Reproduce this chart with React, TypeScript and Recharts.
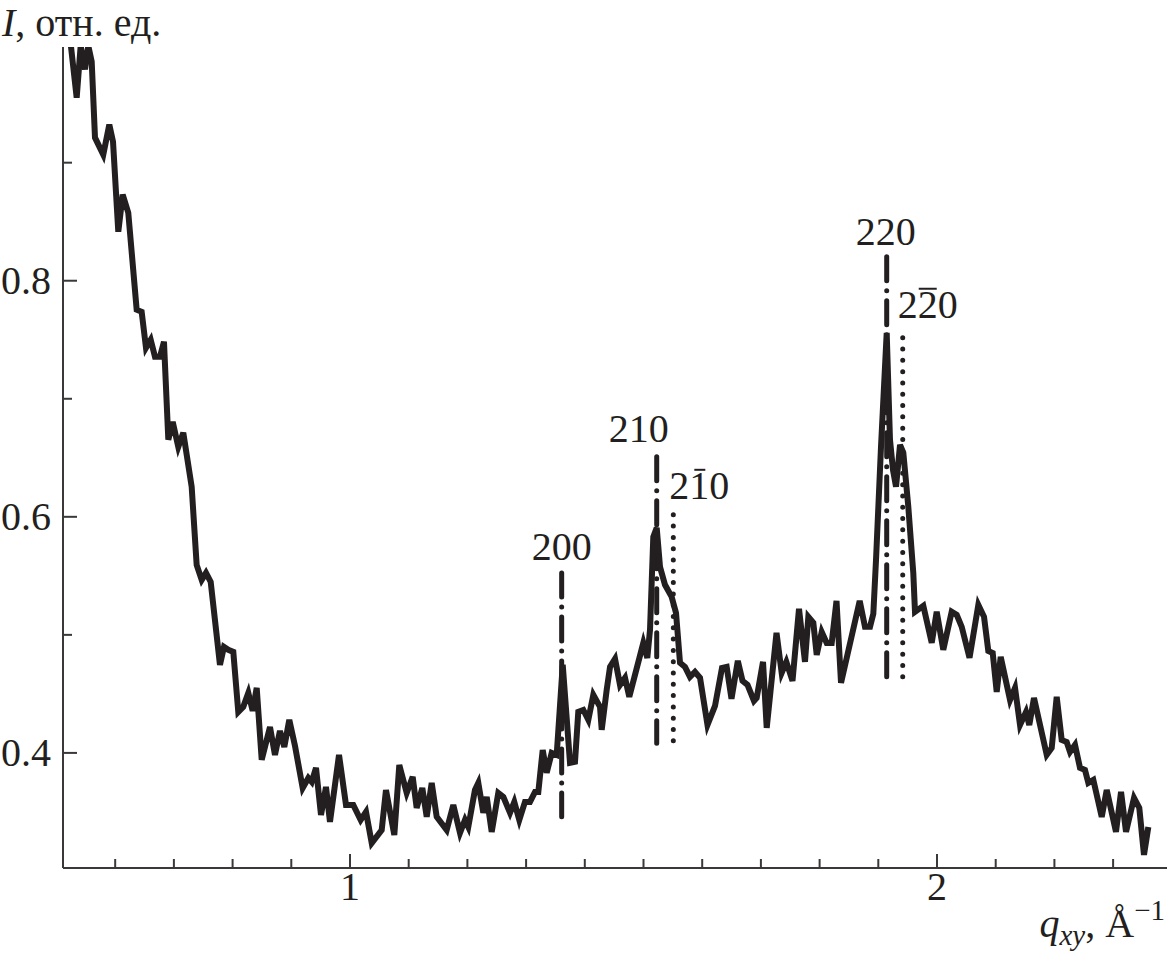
import React from 'react';
import { LineChart, Line, XAxis, YAxis, ReferenceLine } from 'recharts';

const qxy = [
  0.523, 0.5344, 0.5412, 0.5486, 0.5542, 0.56, 0.5656, 0.5797, 0.59, 0.5963,
  0.6053, 0.6128, 0.6223, 0.6366, 0.6451, 0.6525, 0.6605, 0.6678, 0.6763, 0.6831,
  0.6905, 0.698, 0.7075, 0.716, 0.7303, 0.7388, 0.7474, 0.7547, 0.7627, 0.7785,
  0.7853, 0.7927, 0.8012, 0.8097, 0.8182, 0.8268, 0.8342, 0.8411, 0.8496, 0.8637,
  0.8722, 0.8807, 0.8881, 0.8966, 0.9063, 0.9194, 0.929, 0.9348, 0.9421, 0.9506,
  0.9591, 0.9659, 0.9813, 0.9932, 1.0056, 1.0182, 1.0273, 1.037, 1.054, 1.0613,
  1.0755, 1.084, 1.0966, 1.1068, 1.1136, 1.1232, 1.1307, 1.1392, 1.1477, 1.1647,
  1.176, 1.1874, 1.1959, 1.2015, 1.2129, 1.2186, 1.2271, 1.2329, 1.2414, 1.2526,
  1.2612, 1.2726, 1.2799, 1.2884, 1.2981, 1.3066, 1.3152, 1.3208, 1.3283, 1.3351,
  1.3436, 1.3521, 1.3624, 1.3748, 1.3833, 1.3889, 1.3975, 1.406, 1.4145, 1.4259,
  1.4288, 1.4373, 1.443, 1.4515, 1.46, 1.4685, 1.4758, 1.4997, 1.5065, 1.5111,
  1.5167, 1.5225, 1.5281, 1.5366, 1.548, 1.5554, 1.5622, 1.5707, 1.5792, 1.5877,
  1.5963, 1.609, 1.6218, 1.6337, 1.6417, 1.6499, 1.6607, 1.6687, 1.6772, 1.6882,
  1.6928, 1.7036, 1.7099, 1.7266, 1.7354, 1.7433, 1.7538, 1.7649, 1.7751, 1.7808,
  1.7893, 1.7951, 1.8036, 1.8121, 1.8206, 1.8288, 1.8365, 1.8683, 1.8773, 1.8859,
  1.8915, 1.8961, 1.9046, 1.9143, 1.9199, 1.925, 1.9302, 1.937, 1.9426, 1.9511,
  1.9596, 1.9625, 1.9767, 1.991, 1.9995, 2.0107, 2.025, 2.0336, 2.0421, 2.0554,
  2.0704, 2.0801, 2.0874, 2.0949, 2.1017, 2.1085, 2.1244, 2.1329, 2.1414, 2.1516,
  2.1572, 2.1652, 2.1869, 2.1954, 2.2039, 2.2124, 2.2209, 2.2266, 2.2351, 2.2436,
  2.2521, 2.2578, 2.2663, 2.2806, 2.2891, 2.3049, 2.3135, 2.322, 2.3356, 2.3446,
  2.3526, 2.36,
];

const intensity = [
  1.006, 0.955, 0.999, 0.979, 0.999, 0.9856, 0.9212, 0.9068, 0.9322, 0.9178,
  0.8415, 0.8729, 0.8576, 0.7754, 0.7737, 0.7432, 0.75, 0.7356, 0.7356, 0.7483,
  0.6653, 0.6805, 0.6593, 0.6712, 0.6254, 0.5593, 0.5466, 0.5525, 0.5449, 0.4746,
  0.4898, 0.4873, 0.4856, 0.4347, 0.439, 0.4508, 0.4356, 0.4551, 0.3941, 0.422,
  0.3983, 0.4186, 0.4051, 0.428, 0.4059, 0.3703, 0.3788, 0.3754, 0.3873, 0.3475,
  0.3712, 0.3415, 0.3983, 0.3559, 0.3559, 0.3432, 0.35, 0.3237, 0.3347, 0.3686,
  0.3305, 0.3898, 0.3661, 0.3797, 0.3534, 0.3703, 0.3458, 0.3746, 0.3458, 0.3347,
  0.3559, 0.3322, 0.3432, 0.3373, 0.3686, 0.3746, 0.3492, 0.3627, 0.3331, 0.3661,
  0.3627, 0.3492, 0.3585, 0.3432, 0.3585, 0.3585, 0.3669, 0.3669, 0.4025, 0.3831,
  0.4, 0.3983, 0.4746, 0.3915, 0.3924, 0.4347, 0.4364, 0.428, 0.4492, 0.439,
  0.4195, 0.4534, 0.4729, 0.4797, 0.4576, 0.4636, 0.4475, 0.4932, 0.4805, 0.5042,
  0.5831, 0.5907, 0.5576, 0.5424, 0.5322, 0.5186, 0.4763, 0.4729, 0.4644, 0.4686,
  0.4636, 0.4237, 0.4398, 0.472, 0.4729, 0.4458, 0.478, 0.461, 0.4576, 0.4441,
  0.4466, 0.4771, 0.4212, 0.5017, 0.4678, 0.4771, 0.461, 0.522, 0.4771, 0.5153,
  0.5102, 0.4831, 0.5025, 0.4932, 0.4932, 0.5288, 0.4593, 0.5288, 0.5068, 0.5068,
  0.5178, 0.5636, 0.6593, 0.7559, 0.6653, 0.6398, 0.6254, 0.661, 0.6542, 0.6085,
  0.5525, 0.5195, 0.5246, 0.4932, 0.5195, 0.4873, 0.5195, 0.5169, 0.5068, 0.4805,
  0.5254, 0.5153, 0.4864, 0.4847, 0.4517, 0.4814, 0.4449, 0.4551, 0.4237, 0.4347,
  0.4237, 0.4466, 0.3983, 0.4042, 0.4475, 0.411, 0.4093, 0.4008, 0.4068, 0.3873,
  0.3856, 0.3746, 0.3771, 0.3458, 0.3686, 0.3331, 0.3669, 0.3331, 0.3619, 0.3534,
  0.3136, 0.3373,
];

const xTicks = [0.6, 0.7, 0.8, 0.9, 1, 1.1, 1.2, 1.3, 1.4, 1.5, 1.6, 1.7, 1.8, 1.9, 2, 2.1, 2.2, 2.3];
const xTickLabels = [1, 2];
const yTicks = [0.4, 0.5, 0.6, 0.7, 0.8, 0.9];
const yTickLabels = [0.4, 0.6, 0.8];

// peak markers (Miller indices); barred = index of the digit carrying a bar (-1 = none)
const peakLabels = ['200', '210', '210', '220', '220'];
const peakBarred = [-1, -1, 1, -1, 1];
const peakQ = [1.3606, 1.5225, 1.5508, 1.9143, 1.9416];
const peakTop = [0.5525, 0.6508, 0.6017, 0.8203, 0.7517];
const peakBottom = [0.346, 0.4082, 0.4085, 0.4633, 0.4619];
const peakDotted = [false, false, true, false, true];
const peakLabelDx = [0, -18, 26, -1, 25];
const peakLabelGap = [13, 15, 16, 12, 20];

const INK = '#231f20';
const AXIS = '#3a3838';
const FONT = '"Liberation Serif", "Times New Roman", serif';
const FS = 40;
const DIGIT_W = FS * 0.5;

const data = qxy.map((q, i) => ({ q, I: intensity[i] }));

const XTick = (props: any) => {
  const { x, y, payload } = props;
  const major = xTickLabels.includes(payload.value);
  return (
    <g>
      <line x1={x} x2={x} y1={y} y2={y - (major ? 14 : 9)} stroke={AXIS} strokeWidth={2} />
      {major && (
        <text x={x} y={y + 32} textAnchor="middle" fontFamily={FONT} fontSize={FS} fill={INK}>
          {payload.value}
        </text>
      )}
    </g>
  );
};

const YTick = (props: any) => {
  const { x, y, payload } = props;
  const major = yTickLabels.includes(payload.value);
  return (
    <g>
      <line x1={x} x2={x + (major ? 14 : 9)} y1={y} y2={y} stroke={AXIS} strokeWidth={2} />
      {major && (
        <text x={x - 12} y={y + 13} textAnchor="end" fontFamily={FONT} fontSize={FS} fill={INK}>
          {String(payload.value)}
        </text>
      )}
    </g>
  );
};

const makePeakLabel = (i: number) => (props: any) => {
  const vb = props.viewBox || {};
  const cx = vb.x + (vb.width || 0) / 2 + peakLabelDx[i];
  const by = vb.y - peakLabelGap[i];
  const txt = peakLabels[i];
  const b = peakBarred[i];
  let bar = null;
  if (b >= 0) {
    const charCenter = cx - (txt.length * DIGIT_W) / 2 + (b + 0.5) * DIGIT_W;
    const half = txt[b] === '1' ? 6 : 9;
    bar = (
      <line
        x1={charCenter - half + (txt[b] === '1' ? 1 : 0)}
        x2={charCenter + half}
        y1={by - 29}
        y2={by - 29}
        stroke={INK}
        strokeWidth={2}
      />
    );
  }
  return (
    <g>
      <text x={cx} y={by} textAnchor="middle" fontFamily={FONT} fontSize={FS} fill={INK}>
        {txt}
      </text>
      {bar}
    </g>
  );
};

export default function App() {
  return (
    <div style={{ position: 'absolute', left: 0, top: 0, width: 1167, height: 956, background: '#fff' }}>
      <LineChart width={1167} height={956} data={data} margin={{ top: 47, right: 0, bottom: 0, left: 0 }}>
        <XAxis
          dataKey="q"
          type="number"
          domain={[0.5111, 2.3918]}
          allowDataOverflow
          ticks={xTicks}
          interval={0}
          tickSize={0}
          tickMargin={0}
          tickLine={false}
          tick={<XTick />}
          axisLine={{ stroke: AXIS, strokeWidth: 2 }}
          height={88}
        />
        <YAxis
          type="number"
          domain={[0.3025, 0.998]}
          allowDataOverflow
          ticks={yTicks}
          interval={0}
          tickSize={0}
          tickMargin={0}
          tickLine={false}
          tick={<YTick />}
          axisLine={{ stroke: AXIS, strokeWidth: 2 }}
          width={63}
        />
        {peakQ.map((q, i) => (
          <ReferenceLine
            key={i}
            segment={[
              { x: q, y: peakTop[i] },
              { x: q, y: peakBottom[i] },
            ]}
            stroke={INK}
            strokeWidth={5}
            strokeLinecap="round"
            strokeDasharray={peakDotted[i] ? '0 11.3' : '24 10 0 10'}
            label={makePeakLabel(i)}
          />
        ))}
        <Line
          type="linear"
          dataKey="I"
          stroke={INK}
          strokeWidth={6}
          dot={false}
          activeDot={false}
          isAnimationActive={false}
        />
      </LineChart>
      <svg
        width={1167}
        height={956}
        style={{ position: 'absolute', left: 0, top: 0, pointerEvents: 'none' }}
      >
        <text x={2} y={36} fontFamily={FONT} fontSize={FS} fill={INK}>
          <tspan fontStyle="italic">I</tspan>
          <tspan>, отн. ед.</tspan>
        </text>
        <text x={1165} y={937} textAnchor="end" fontFamily={FONT} fontSize={FS} fill={INK}>
          <tspan fontStyle="italic">q</tspan>
          <tspan fontStyle="italic" fontSize={29} dy={8}>xy</tspan>
          <tspan dy={-8}>, Å</tspan>
          <tspan fontSize={29} dy={-17}>−1</tspan>
        </text>
      </svg>
    </div>
  );
}
